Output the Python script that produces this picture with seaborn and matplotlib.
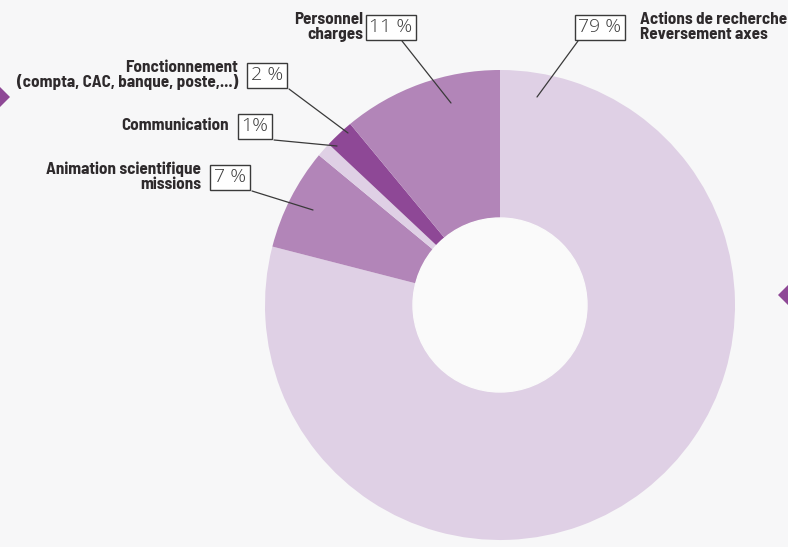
import matplotlib
matplotlib.use("Agg")
import matplotlib.pyplot as plt
import seaborn as sns
from matplotlib.patches import Polygon

# ---- data ----
categories = ["Actions de recherche\nReversement axes",
              "Animation scientifique\nmissions",
              "Communication",
              "Fonctionnement\n(compta, CAC, banque, poste,...)",
              "Personnel\ncharges"]
values = [79, 7, 1, 2, 11]
pct_labels = ["79 %", "7 %", "1%", "2 %", "11 %"]
colors = ["#dfd0e5", "#b285b8", "#dfd0e5", "#8e4896", "#b285b8"]

sns.set_theme(style="white")
plt.rcParams['font.family'] = ['Barlow Semi Condensed', 'DejaVu Sans']

W, H = 788, 547
fig = plt.figure(figsize=(W / 100, H / 100), dpi=100)
fig.patch.set_facecolor("#f7f7f8")
ax = fig.add_axes([0, 0, 1, 1])
ax.set_facecolor("#f7f7f8")

def py(y):
    return H - y

cx, cy, R, r_in = 500, 305, 235, 87
ax.pie(values, colors=colors, startangle=90, counterclock=False,
       center=(cx, py(cy)), radius=R,
       wedgeprops=dict(width=R - r_in, linewidth=0), frame=True)
hole = plt.Circle((cx, py(cy)), r_in, color="#fafafa", zorder=3)
ax.add_patch(hole)

ax.set_xlim(0, W)
ax.set_ylim(0, H)
ax.set_aspect("equal")
ax.axis("off")

layout = {
    0: dict(txt=(640, 27), ha="left", box=(600, 27), ls=(578, 41), le=(537, 97)),
    1: dict(txt=(201, 177), ha="right", box=(230, 177), ls=(252, 191), le=(313, 210)),
    2: dict(txt=(229, 126), ha="right", box=(255, 126), ls=(274, 140), le=(337, 146)),
    3: dict(txt=(238, 75), ha="right", box=(267, 75), ls=(289, 89), le=(348, 133)),
    4: dict(txt=(363, 27), ha="right", box=(391, 27), ls=(402, 41), le=(451, 103)),
}

txt_color = "#2e2a2c"
for i, cat in enumerate(categories):
    L = layout[i]
    ax.text(L["txt"][0], py(L["txt"][1]), cat, ha=L["ha"], va="center",
            fontsize=12.3, fontweight="bold", color=txt_color,
            linespacing=0.98, zorder=5)
    ax.text(L["box"][0], py(L["box"][1]), pct_labels[i], ha="center", va="center",
            fontsize=14, fontweight="light", color="#3c3c3c",
            family=["Open Sans", "DejaVu Sans"], zorder=6,
            bbox=dict(boxstyle="square,pad=0.18", facecolor="white",
                      edgecolor="#3a3a3a", linewidth=1.0))
    ax.plot([L["ls"][0], L["le"][0]], [py(L["ls"][1]), py(L["le"][1])],
            color="#3a3a3a", linewidth=0.9, zorder=4)

for (x, y) in [(0, 97), (788, 295)]:
    d = 10
    ax.add_patch(Polygon([(x - d, py(y)), (x, py(y) + d), (x + d, py(y)), (x, py(y) - d)],
                         closed=True, facecolor="#8e4896", edgecolor="none", zorder=2))

fig.savefig("out.png", dpi=100, facecolor=fig.get_facecolor())
